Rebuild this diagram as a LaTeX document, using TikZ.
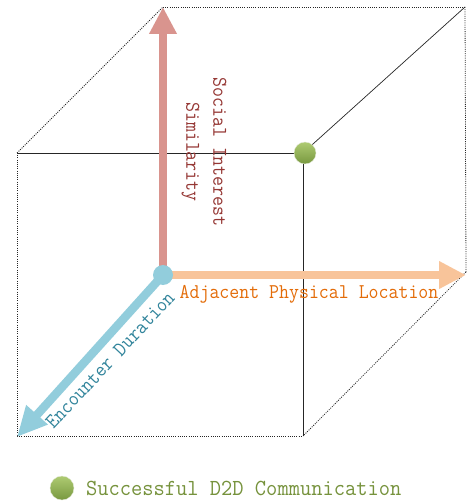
\documentclass[tikz,border=0pt]{standalone}
\usetikzlibrary{arrows.meta}
\definecolor{socred}{HTML}{D9948E}
\definecolor{soctext}{HTML}{953734}
\definecolor{adjor}{HTML}{F8C49A}
\definecolor{adjtext}{HTML}{E36C09}
\definecolor{encbl}{HTML}{92CDDC}
\definecolor{enctext}{HTML}{31849B}
\definecolor{ballhi}{HTML}{AECB72}
\definecolor{balllo}{HTML}{78983F}
\definecolor{legtext}{HTML}{76923C}
\tikzset{
  solidedge/.style={line width=0.7pt, black!85},
  dotedge/.style={line width=0.8pt, black!85, dash pattern=on 1pt off 1.2pt},
  axis/.style={line width=8.5pt},
  lbl/.style={font=\ttfamily\fontsize{21}{25}\selectfont, inner sep=0pt},
  ballnode/.style={circle, inner sep=0pt, minimum size=22pt, top color=ballhi, bottom color=balllo, draw=white!80!balllo, line width=0.4pt},
}
\begin{document}
\begin{tikzpicture}[x=1pt,y=-1pt]
\useasboundingbox (0,0) rectangle (466,502);
% cube corners
\coordinate (ftl) at (17,153);
\coordinate (ftr) at (303,153);
\coordinate (fbl) at (17,436);
\coordinate (fbr) at (303,436);
\coordinate (btl) at (163,7);
\coordinate (btr) at (465,7);
\coordinate (bbr) at (466,272);
\coordinate (org) at (163,275);
% edges
\draw[solidedge] (ftl) -- (ftr);
\draw[solidedge] (ftr) -- (fbr);
\draw[solidedge] (ftr) -- (btr);
\draw[dotedge] (ftl) -- (fbl);
\draw[dotedge] (fbl) -- (fbr);
\draw[dotedge] (ftl) -- (btl);
\draw[dotedge] (btl) -- (btr);
\draw[dotedge] (btr) -- (bbr);
\draw[dotedge] (bbr) -- (fbr);
% axes
\coordinate (ytip) at (163,7);
\coordinate (xtip) at (466,275);
\coordinate (ztip) at (17,437);
\draw[axis, socred, -{Triangle[length=27pt,width=26pt]}] (org) -- (ytip);
\draw[axis, adjor, -{Triangle[length=27pt,width=26pt]}] (org) -- (xtip);
\draw[axis, encbl, -{Triangle[length=30pt,width=27pt]}] (org) -- (ztip);
\node[circle, fill=encbl, inner sep=0pt, minimum size=20pt] (origin) at (org) {};
% ball
\node[ballnode] (ball) at (305,153) {};
% labels
\node[lbl, text=soctext, rotate=-90, align=center] (soc) at (204,152)
  {\scalebox{0.92}[1]{Social Interest}\\[2pt]\scalebox{0.92}[1]{Similarity}};
\node[lbl, text=adjtext] (adj) at (309,294) {\scalebox{0.92}[1]{Adjacent Physical Location}};
\node[lbl, text=enctext, rotate=47] (enc) at (110,360) {\scalebox{0.92}[1]{Encounter Duration}};
% legend
\node[ballnode, minimum size=24pt] (legball) at (62,488) {};
\node[lbl, font=\ttfamily\fontsize{23}{27}\selectfont, text=legtext, anchor=west] (leg) at (86,488) {\scalebox{0.95}[1]{Successful D2D Communication}};
\end{tikzpicture}
\end{document}
